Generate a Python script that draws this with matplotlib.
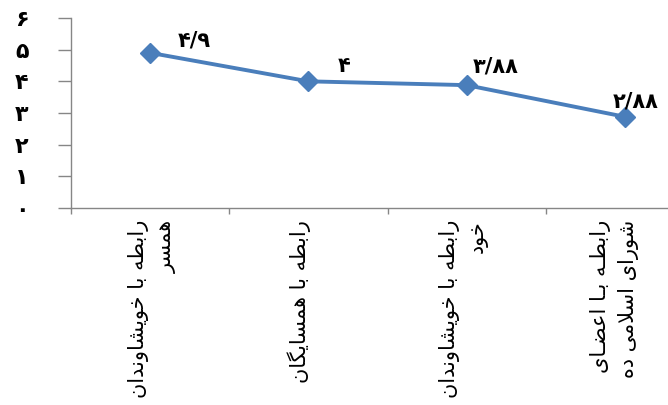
import matplotlib
matplotlib.use("Agg")
import matplotlib.pyplot as plt

# ---------------- data ----------------
categories = [
    "رابطه با خویشاوندان\nهمسر",
    "رابطه با همسایگان",
    "رابطه با خویشاوندان\nخود",
    "رابطـه بـا اعضـای\nشورای اسلامی ده",
]
values = [4.9, 4.0, 3.88, 2.88]
value_labels = ["۴/۹", "۴", "۳/۸۸", "۲/۸۸"]
y_ticks = [0, 1, 2, 3, 4, 5, 6]
y_tick_labels = ["۰", "۱", "۲", "۳", "۴", "۵", "۶"]

# ---------------- minimal Persian shaping ----------------
FORMS = {  # isolated, final, initial, medial
    "ا": ("\uFE8D", "\uFE8E", None, None),
    "ب": ("\uFE8F", "\uFE90", "\uFE91", "\uFE92"),
    "ط": ("\uFEC1", "\uFEC2", "\uFEC3", "\uFEC4"),
    "ه": ("\uFEE9", "\uFEEA", "\uFEEB", "\uFEEC"),
    "خ": ("\uFEA5", "\uFEA6", "\uFEA7", "\uFEA8"),
    "و": ("\uFEED", "\uFEEE", None, None),
    "ی": ("\uFBFC", "\uFBFD", "\uFBFE", "\uFBFF"),
    "ش": ("\uFEB5", "\uFEB6", "\uFEB7", "\uFEB8"),
    "ن": ("\uFEE5", "\uFEE6", "\uFEE7", "\uFEE8"),
    "د": ("\uFEA9", "\uFEAA", None, None),
    "ر": ("\uFEAD", "\uFEAE", None, None),
    "م": ("\uFEE1", "\uFEE2", "\uFEE3", "\uFEE4"),
    "س": ("\uFEB1", "\uFEB2", "\uFEB3", "\uFEB4"),
    "گ": ("\uFB92", "\uFB93", "\uFB94", "\uFB95"),
    "ع": ("\uFEC9", "\uFECA", "\uFECB", "\uFECC"),
    "ض": ("\uFEBD", "\uFEBE", "\uFEBF", "\uFEC0"),
    "ل": ("\uFEDD", "\uFEDE", "\uFEDF", "\uFEE0"),
}
TATWEEL = "\u0640"


def dual(c):
    return c == TATWEEL or (c in FORMS and FORMS[c][2] is not None)


def joins(c):
    return c == TATWEEL or c in FORMS


def shape_line(s):
    out = []
    i = 0
    n = len(s)
    while i < n:
        c = s[i]
        prev = s[i - 1] if i > 0 else ""
        pj = bool(prev) and dual(prev)
        if c == "ل" and i + 1 < n and s[i + 1] == "ا":
            out.append("\uFEFC" if pj else "\uFEFB")
            i += 2
            continue
        if c in FORMS:
            nxt = s[i + 1] if i + 1 < n else ""
            nj = dual(c) and bool(nxt) and joins(nxt)
            f = FORMS[c]
            if pj and nj:
                out.append(f[3])
            elif pj:
                out.append(f[1])
            elif nj:
                out.append(f[2])
            else:
                out.append(f[0])
        else:
            out.append(c)
        i += 1
    return "".join(reversed(out))


def shape(s):
    return "\n".join(shape_line(l) for l in s.split("\n"))


# ---------------- figure ----------------
fig = plt.figure(figsize=(6.68, 4.05), dpi=100)
ax = fig.add_axes([71 / 668, 1 - 208 / 405, 633 / 668, 190 / 405])

x = list(range(len(values)))
line_color = "#4A7EBB"
ax.plot(x, values, color=line_color, lw=2.8, marker="D", ms=10.5,
        mfc=line_color, mec=line_color, zorder=3)

offsets_px = [(44, 12), (36, 15), (29, 19), (11, 15)]
for xi, v, lab, (dx, dy) in zip(x, values, value_labels, offsets_px):
    ax.annotate(lab, (xi, v), xytext=(dx * 0.72, dy * 0.72),
                textcoords="offset points", ha="center", va="center",
                fontsize=15, fontweight="bold", family="DejaVu Sans",
                color="black")

ax.set_xlim(-0.5, len(values) - 0.5)
ax.set_ylim(0, 6)

axis_color = "#868686"
for s in ("top", "right"):
    ax.spines[s].set_visible(False)
for s in ("left", "bottom"):
    ax.spines[s].set_color(axis_color)
    ax.spines[s].set_linewidth(1.0)

ax.set_yticks(y_ticks)
ax.set_yticklabels(y_tick_labels, fontsize=16, fontweight="bold",
                   family="DejaVu Sans", ha="center")
ax.tick_params(axis="y", direction="out", length=9.4, width=1.0,
               color=axis_color, pad=26)

ax.set_xticks([i - 0.5 for i in range(len(values) + 1)])
ax.set_xticklabels([])
ax.tick_params(axis="x", direction="out", length=4.5, width=1.0,
               color=axis_color)

# left edge of each rotated label block, px relative to category centre
label_shift_px = [-22, -21, -28, -35]
for xi, cat, sh in zip(x, categories, label_shift_px):
    ax.annotate(shape(cat), (xi, 0), xytext=(sh * 0.72, -12 * 0.72),
                textcoords="offset points", rotation=90, ha="left",
                va="top", multialignment="right", fontsize=15,
                family="DejaVu Sans", linespacing=1.45, color="black",
                annotation_clip=False)

fig.savefig("out.png", dpi=100)
